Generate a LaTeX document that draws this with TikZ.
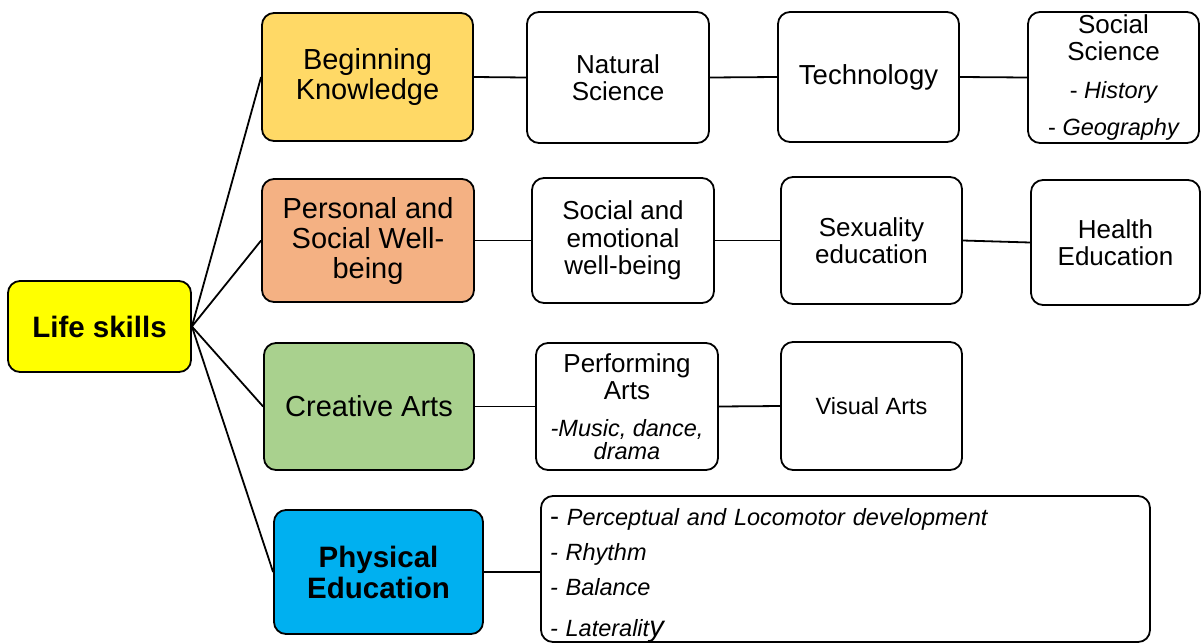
\documentclass[tikz,border=0pt]{standalone}
\usepackage{fontspec}
\setmainfont{Liberation Sans}
\definecolor{lsyellow}{HTML}{FFFF00}
\definecolor{bkgold}{HTML}{FFD966}
\definecolor{pswpeach}{HTML}{F4B183}
\definecolor{cagreen}{HTML}{A9D18E}
\definecolor{peblue}{HTML}{00B0F0}
\begin{document}
\begin{tikzpicture}[x=1pt,y=-1pt,line width=1.8pt,
  box/.style={draw, rounded corners=12pt, align=center, inner sep=0pt, fill=white},
  big/.style={font=\fontsize{29}{30}\selectfont},
  mid/.style={font=\fontsize{26}{27.5}\selectfont},
  link/.style={draw, line width=1.8pt}]
\useasboundingbox (0,0) rectangle (1201,643);
% main nodes
\node[box, fill=lsyellow, minimum width=183, minimum height=91, font=\fontsize{29.5}{31}\selectfont\bfseries] (life) at (99.5,326.5) {Life skills};
\node[box, big, fill=bkgold, minimum width=211, minimum height=128] (bk) at (367.5,77) {Beginning\\Knowledge};
\node[box, big, fill=pswpeach, minimum width=212, minimum height=123] (psw) at (368,240.5) {Personal and\\Social Well-\\being};
\node[box, big, fill=cagreen, minimum width=210, minimum height=127] (ca) at (369,406.5) {Creative Arts};
\node[box, fill=peblue, minimum width=209, minimum height=124, font=\fontsize{29.5}{31}\selectfont\bfseries] (pe) at (378.5,572) {Physical\\Education};
% row 1
\node[box, mid, minimum width=182, minimum height=131] (ns) at (618,77.5) {Natural\\Science};
\node[box, minimum width=181, minimum height=130, font=\fontsize{27.5}{30}\selectfont] (tech) at (868.5,77) {Technology};
\node[box, mid, minimum width=171, minimum height=131] (ss) at (1113.5,77.5) {Social\\Science\\[10pt]{\fontsize{23.5}{26}\selectfont - \itshape History}\\[10pt]{\fontsize{23.5}{26}\selectfont - \itshape Geography}};
% row 2
\node[box, mid, minimum width=182, minimum height=125] (sew) at (623,240.5) {Social and\\emotional\\well-being};
\node[box, mid, minimum width=181, minimum height=127] (sex) at (871.5,240.5) {Sexuality\\education};
\node[box, mid, minimum width=169, minimum height=125] (health) at (1115.5,242.5) {Health\\Education};
% row 3
\node[box, mid, minimum width=182, minimum height=127] (pa) at (627,406.5) {Performing\\Arts\\[9pt]{\fontsize{23.5}{23}\selectfont\itshape -Music, dance,}\\[-4pt]{\fontsize{23.5}{23}\selectfont\itshape drama}};
\node[box, minimum width=181, minimum height=128, font=\fontsize{23.5}{26}\selectfont] (va) at (871.5,406) {Visual Arts};
% row 4
\node[box, minimum width=609, minimum height=146, align=left, text width=591, font=\fontsize{23.5}{35}\selectfont] (pl) at (845.5,569)
  {\rule{0pt}{29pt}{\fontsize{27}{35}\selectfont -} \itshape Perceptual and Locomotor development\\- \itshape Rhythm\\- \itshape Balance\\[6pt]- \itshape Lateralit{\fontsize{29}{35}\selectfont y}};
% connectors
\draw[link] (life.east) -- (bk.west);
\draw[link] (life.east) -- (psw.west);
\draw[link] (life.east) -- (ca.west);
\draw[link] (life.east) -- (pe.west);
\draw[link] (bk.east) -- (ns.west);
\draw[link] (ns.east) -- (tech.west);
\draw[link] (tech.east) -- (ss.west);
\draw[link] (psw.east) -- (sew.west);
\draw[link] (sew.east) -- (sex.west);
\draw[link] (sex.east) -- (health.west);
\draw[link] (ca.east) -- (pa.west);
\draw[link] (pa.east) -- (va.west);
\draw[link] (pe.east) -- (pe.east -| pl.west);
\end{tikzpicture}
\end{document}
